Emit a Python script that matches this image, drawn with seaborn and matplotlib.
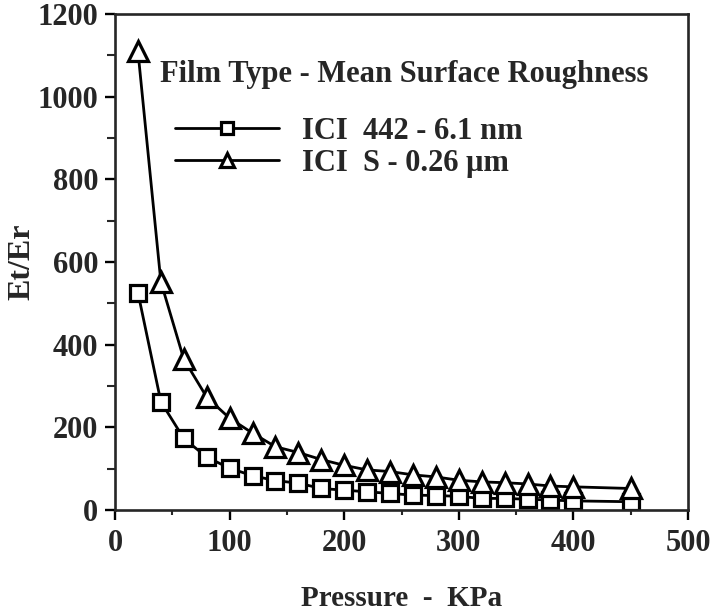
import matplotlib
matplotlib.use("Agg")
import matplotlib.pyplot as plt
from matplotlib.ticker import MultipleLocator
import pandas as pd
import seaborn as sns

# values
pressure = [20, 40, 60, 80, 100, 120, 140, 160, 180, 200, 220,
            240, 260, 280, 300, 320, 340, 360, 380, 400, 450]
ici_442 = [526, 262, 173, 128, 101, 83, 71, 65, 52, 48, 44,
           40, 36, 35, 33, 28, 28, 26, 24, 22, 20]
ici_s = [1110, 552, 365, 273, 222, 186, 153, 139, 122, 108, 97,
         93, 85, 80, 72, 68, 66, 63, 58, 56, 52]
series_labels = ["ICI  442 - 6.1 nm", "ICI  S - 0.26 \u03bcm"]
legend_title = "Film Type - Mean Surface Roughness"

df = pd.DataFrame({
    "Pressure": pressure * 2,
    "EtEr": ici_442 + ici_s,
    "Film": [series_labels[0]] * len(pressure) + [series_labels[1]] * len(pressure),
})

sns.set_style("ticks")
plt.rcParams["font.family"] = ["Liberation Serif", "DejaVu Serif"]
plt.rcParams["font.weight"] = "bold"
plt.rcParams["axes.linewidth"] = 1.9

fig = plt.figure(figsize=(7.18, 6.16), dpi=100)
ax = fig.add_axes([0.1602, 0.1721, 0.798, 0.8052])

sns.lineplot(data=df, x="Pressure", y="EtEr", hue="Film", style="Film",
             markers=["s", "^"], dashes=False, palette=["black", "black"],
             legend=False, errorbar=None, ax=ax, linewidth=2,
             markersize=11.5, markerfacecolor="white",
             markeredgecolor="black", markeredgewidth=2.3)
ax.lines[1].set_markersize(14)

ax.set_xlim(0, 500)
ax.set_ylim(0, 1200)
ax.xaxis.set_major_locator(MultipleLocator(100))
ax.xaxis.set_minor_locator(MultipleLocator(50))
ax.yaxis.set_major_locator(MultipleLocator(200))
ax.yaxis.set_minor_locator(MultipleLocator(100))
ax.tick_params(axis="both", which="major", length=7, width=1.7,
               labelsize=22, color="black")
ax.tick_params(axis="x", which="major", pad=7)
ax.tick_params(axis="y", which="major", pad=5)
ax.tick_params(axis="x", which="minor", length=3.5, width=1.5)
ax.tick_params(axis="y", which="minor", length=6, width=1.5)

ax.set_xlabel("Pressure  -  KPa", fontsize=21, fontweight="bold", labelpad=19)
ax.set_ylabel("Et/Er", fontsize=23, fontweight="bold", labelpad=1)

ax.text(0.0785, 0.878, legend_title, transform=ax.transAxes,
        fontsize=22, fontweight="bold", va="center", ha="left")
ax.legend(handles=ax.lines[:2], labels=series_labels, loc="upper left",
          bbox_to_anchor=(0.105, 0.793), frameon=False, fontsize=22,
          handlelength=3.4, handletextpad=0.75, labelspacing=0.1,
          borderpad=0, borderaxespad=0, markerscale=0.75)

fig.savefig("out.png", dpi=100)
